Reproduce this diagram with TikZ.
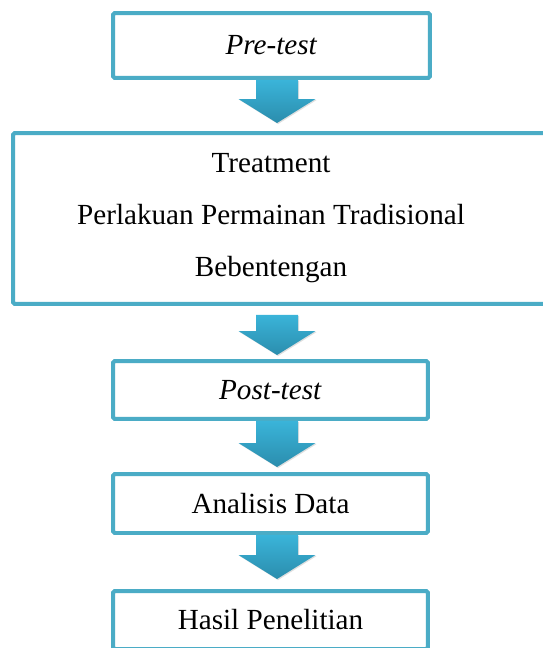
\documentclass[tikz,border=0pt]{standalone}
\usepackage{fontspec}
\setmainfont{Liberation Serif}
\usetikzlibrary{calc,shadows}
\definecolor{boxline}{HTML}{4BACC6}
\definecolor{arrowtop}{HTML}{3AB4D9}
\definecolor{arrowbot}{HTML}{2B8DAD}

\begin{document}
\begin{tikzpicture}[x=0.02cm, y=-0.02cm,
    stepbox/.style={draw=boxline, line width=0.08cm, rounded corners=1pt, fill=white,
        inner sep=0pt, font=\fontsize{16.6}{29.6}\selectfont},
    boxtext/.style={font=\fontsize{16.6}{29.6}\selectfont, align=center}]
    \useasboundingbox (0,0) rectangle (542,648);
    % steps
    \node[stepbox, minimum width=6.34cm, minimum height=1.3cm] (pre) at (271.5,45.5) {\textit{Pre-test}};
    \node[stepbox, minimum width=10.84cm, minimum height=3.42cm] (treat) at (284,218.5) {};
    \node[boxtext] (treattext) at (271,218.5) {Treatment\\Perlakuan Permainan Tradisional\\Bebentengan};
    \node[stepbox, minimum width=6.3cm, minimum height=1.16cm] (post) at (270.5,390) {\textit{Post-test}};
    \node[stepbox, minimum width=6.3cm, minimum height=1.18cm] (anls) at (270.5,503.5) {Analisis Data};
    \node[stepbox, minimum width=6.3cm, minimum height=1.16cm] (hasil) at (270.5,620) {Hasil Penelitian};
    % block arrows
    \foreach \a/\b/\ga/\gb in {pre/treat/0/8, treat/post/9/4, post/anls/0/5, anls/hasil/0/10} {
        \path (277,0 |- \a.south) ++(0,\ga) coordinate (shaft)
              (277,0 |- \b.north) ++(0,-\gb) coordinate (tip);
        \shade[top color=arrowtop, bottom color=arrowbot,
               drop shadow={opacity=0.25, shadow xshift=0.6pt, shadow yshift=-0.6pt}]
            ($(shaft)+(-21,0)$) -- ($(shaft)+(21,0)$) -- ($(tip)+(21,-24)$)
            -- ($(tip)+(38.5,-24)$) -- (tip) -- ($(tip)+(-38.5,-24)$)
            -- ($(tip)+(-21,-24)$) -- cycle;
    }
\end{tikzpicture}
\end{document}
